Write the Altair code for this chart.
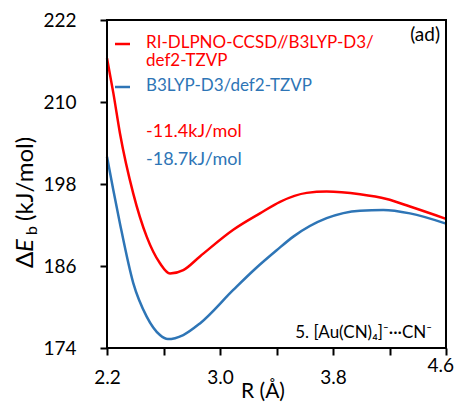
import altair as alt
import pandas as pd

# ---- data ----
r_red = [2.20, 2.245, 2.292, 2.386, 2.481, 2.575, 2.646, 2.74, 2.858, 3.094, 3.283, 3.425, 3.614, 3.755, 3.991, 4.18, 4.345, 4.60]
e_red = [216.4, 211.3, 205.4, 196.6, 190.3, 186.4, 184.9, 185.4, 187.4, 191.3, 193.7, 195.4, 196.7, 196.9, 196.5, 195.8, 194.7, 192.9]

r_blue = [2.20, 2.245, 2.292, 2.386, 2.481, 2.575, 2.63, 2.74, 2.858, 3.094, 3.25, 3.401, 3.519, 3.755, 3.991, 4.156, 4.345, 4.60]
e_blue = [202.0, 197.1, 192.2, 183.5, 178.6, 175.9, 175.3, 175.9, 177.6, 182.5, 185.6, 188.3, 190.3, 193.0, 194.1, 194.2, 193.7, 192.2]

series_names = ["RI-DLPNO-CCSD//B3LYP-D3/def2-TZVP", "B3LYP-D3/def2-TZVP"]
series_colors = ["#FF0000", "#2E75B6"]
x_ticks = [2.2, 2.6, 3.0, 3.4, 3.8, 4.2, 4.6]
y_ticks = [174, 186, 198, 210, 222]
x_domain = [2.2, 4.6]
y_domain = [174, 222]

FONT = "Lato"

df = pd.concat([
    pd.DataFrame({"R": r_red, "E": e_red, "method": series_names[0]}),
    pd.DataFrame({"R": r_blue, "E": e_blue, "method": series_names[1]}),
])

W, H = 339, 328

x_scale = alt.Scale(domain=x_domain, nice=False, zero=False)
y_scale = alt.Scale(domain=y_domain, nice=False, zero=False)

# last label (4.6) is drawn separately so that it is not clipped at the page edge
label_expr = ("datum.value < 4.5 && abs((datum.value-2.2)/0.8 - round((datum.value-2.2)/0.8)) < 0.01 "
              "? format(datum.value, '.1f') : ''")

lines = alt.Chart(df).mark_line(interpolate="monotone", strokeWidth=2.5).encode(
    x=alt.X("R:Q", scale=x_scale,
            axis=alt.Axis(values=x_ticks, labelExpr=label_expr, title=None,
                          domain=False, grid=False, tickColor="black", tickWidth=2,
                          tickSize=7, labelFont=FONT, labelFontSize=19,
                          labelColor="black", labelPadding=13, labelFlush=False)),
    y=alt.Y("E:Q", scale=y_scale,
            axis=alt.Axis(values=y_ticks, format="d", title=None,
                          domain=False, grid=False, tickColor="black", tickWidth=2,
                          tickSize=7, labelFont=FONT, labelFontSize=19,
                          labelColor="black", labelPadding=24, labelFlush=False)),
    color=alt.Color("method:N", scale=alt.Scale(domain=series_names, range=series_colors),
                    legend=None),
)

# plot frame drawn as a closed polyline through the scale corners
frame_df = pd.DataFrame({
    "fx": [x_domain[0], x_domain[0], x_domain[1], x_domain[1], x_domain[0]],
    "fy": [y_domain[0], y_domain[1], y_domain[1], y_domain[0], y_domain[0]],
    "k": [0, 1, 2, 3, 4],
})
frame = alt.Chart(frame_df).mark_line(color="#000000", strokeWidth=2, strokeCap="square").encode(
    x=alt.X("fx:Q", scale=x_scale), y=alt.Y("fy:Q", scale=y_scale), order="k:Q")

one = pd.DataFrame({"a": [0]})


def hrule(y, x1, x2, color="black", sw=2):
    return alt.Chart(one).mark_rule(color=color, strokeWidth=sw).encode(
        x=alt.value(x1), x2=alt.value(x2), y=alt.value(y))


# legend swatches (manual)
leg_red = hrule(24, 8, 23, series_colors[0], 2.5)
leg_blue = hrule(67, 8, 23, series_colors[1], 2.5)


def txt(text, x, y, color="black", size=17, align="left", baseline="alphabetic",
        angle=0, italic=False):
    kw = dict(align=align, baseline=baseline, font=FONT, fontSize=size, color=color)
    if angle:
        kw["angle"] = angle
    if italic:
        kw["fontStyle"] = "italic"
    return alt.Chart(pd.DataFrame({"t": [text]})).mark_text(**kw).encode(
        text="t:N", x=alt.value(x), y=alt.value(y))


annos = [
    txt("RI-DLPNO-CCSD//B3LYP-D3/", 39, 28, series_colors[0]),
    txt("def2-TZVP", 39, 46, series_colors[0]),
    txt("B3LYP-D3/def2-TZVP", 39, 71, series_colors[1]),
    txt("-11.4kJ/mol", 39, 117, series_colors[0], 18),
    txt("-18.7kJ/mol", 39, 145, series_colors[1], 18),
    txt("(ad)", 333, 21, "black", 19, align="right"),
    txt("5. [Au(CN)\u2084]\u207b\u00b7\u00b7\u00b7CN\u207b", 325, 318, "black", 17, align="right"),
    txt("4.6", W + 8, 372 - 20, "black", 19, align="right"),
    # axis titles
    txt("R (\u00c5)", 156, 378, "black", 21, align="center"),
    txt("\u0394", -74, 248, "black", 24, angle=270),
    txt("E", -74, 232, "black", 24, angle=270, italic=True),
    txt("b", -70, 215, "black", 16, angle=270),
    txt("(kJ/mol)", -74, 201, "black", 24, angle=270),
]

chart = alt.layer(lines, frame, leg_red, leg_blue, *annos).properties(
    width=W, height=H,
    padding={"left": 99, "top": 12, "right": 8, "bottom": 57},
    autosize=alt.AutoSizeParams(type="none"),
    background="white",
).configure_view(stroke="#000000", strokeWidth=2)

chart.save("out.html", embed_options={"renderer": "svg", "actions": False})
